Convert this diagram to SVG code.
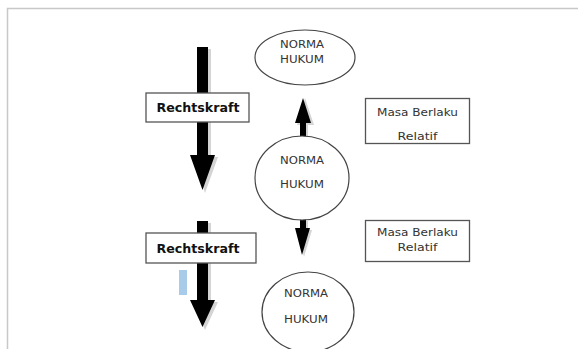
<svg xmlns="http://www.w3.org/2000/svg" width="579" height="349" viewBox="0 0 579 349">
<style>
.frame{fill:none;stroke:#c8c8c8;stroke-width:1.5}
.box{fill:#fff;stroke:#555;stroke-width:1.3}
.ell{fill:#fff;stroke:#444;stroke-width:1.2}
.arr{fill:#000}
.sh{fill:#d4d4d4}
.t{font-family:"DejaVu Sans","Liberation Sans",sans-serif;font-size:10.5px;fill:#333;text-anchor:middle}
.b{font-family:"DejaVu Sans","Liberation Sans",sans-serif;font-size:12px;font-weight:bold;fill:#111;text-anchor:middle}
</style>
<rect width="579" height="349" fill="#fff"/>
<path class="frame" d="M7.5,349 V8.5 H578"/>
<g id="connectors">
<g id="arrow1">
<path class="sh" d="M200,49 H211 V157 H218 L205,193 L193,157 H200 Z"/>
<path class="arr" d="M197,47 H208 V155 H215 L202.5,190 L190,155 H197 Z"/>
</g>
<g id="arrow2">
<path class="sh" d="M200,223 H211 V302 H218 L205,330 L193,302 H200 Z"/>
<path class="arr" d="M197,221 H208 V300 H215 L202.5,327 L190,300 H197 Z"/>
</g>
<g id="arrow-up">
<path class="sh" d="M302,136 H308 V125 H314 L305,98 L297,125 H302 Z"/>
<path class="arr" d="M300,137 H306 V123 H311 L303,98 L295,123 H300 Z"/>
</g>
<g id="arrow-down">
<path class="sh" d="M302,221 H308 V230 H312 L304,257 L298,230 H302 Z"/>
<path class="arr" d="M300,219 H306 V228 H310 L302,255 L295,228 H300 Z"/>
</g>
</g>
<g id="rechtskraft1">
<rect class="box" x="146" y="93" width="103" height="29"/>
<text class="b" x="198" y="112" textLength="83" lengthAdjust="spacingAndGlyphs">Rechtskraft</text>
</g>
<g id="rechtskraft2">
<rect class="box" x="146" y="233" width="110" height="30"/>
<text class="b" x="198" y="252.5" textLength="83" lengthAdjust="spacingAndGlyphs">Rechtskraft</text>
</g>
<rect id="blue-bar" x="179" y="270" width="8" height="25" fill="#a9cbea"/>
<g id="norma1">
<ellipse class="ell" cx="305" cy="57.5" rx="50" ry="27.5"/>
<text class="t" x="302" y="48" textLength="44" lengthAdjust="spacingAndGlyphs">NORMA</text>
<text class="t" x="302" y="63" textLength="44" lengthAdjust="spacingAndGlyphs">HUKUM</text>
</g>
<g id="norma2">
<ellipse class="ell" cx="302" cy="178" rx="47" ry="42"/>
<text class="t" x="302" y="164" textLength="44" lengthAdjust="spacingAndGlyphs">NORMA</text>
<text class="t" x="302" y="188" textLength="44" lengthAdjust="spacingAndGlyphs">HUKUM</text>
</g>
<g id="norma3">
<ellipse class="ell" cx="308" cy="312" rx="46" ry="40"/>
<text class="t" x="306" y="297" textLength="44" lengthAdjust="spacingAndGlyphs">NORMA</text>
<text class="t" x="306" y="323" textLength="44" lengthAdjust="spacingAndGlyphs">HUKUM</text>
</g>
<g id="masa1">
<rect class="box" x="365.5" y="98.5" width="104" height="45"/>
<text class="t" x="417.5" y="116" textLength="81" lengthAdjust="spacingAndGlyphs">Masa Berlaku</text>
<text class="t" x="417.5" y="140" textLength="40" lengthAdjust="spacingAndGlyphs">Relatif</text>
</g>
<g id="masa2">
<rect class="box" x="365.5" y="220.5" width="104" height="41"/>
<text class="t" x="417.5" y="236" textLength="81" lengthAdjust="spacingAndGlyphs">Masa Berlaku</text>
<text class="t" x="417.5" y="251" textLength="40" lengthAdjust="spacingAndGlyphs">Relatif</text>
</g>
</svg>
